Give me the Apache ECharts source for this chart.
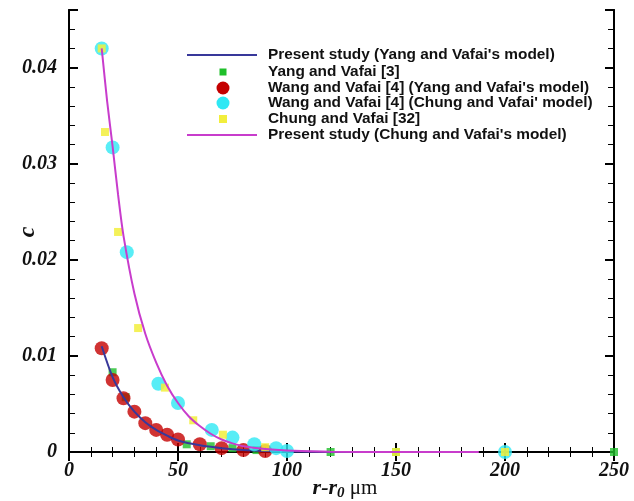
<!DOCTYPE html>
<html><head><meta charset="utf-8">
<script src="https://cdn.jsdelivr.net/npm/echarts@6/dist/echarts.min.js"></script>
<style>html,body{margin:0;padding:0;background:#fff}#c{width:634px;height:501px}</style>
</head><body><div id="c"></div>
<script>
// Present study (Yang and Vafai's model) - blue line
const blueX = [15, 20, 25, 30, 35, 40, 45, 50, 60, 70, 80, 90, 100, 120, 150];
const blueY = [0.011, 0.0078, 0.0057, 0.0042, 0.0031, 0.0023, 0.0017, 0.0012, 0.0007, 0.0004, 0.0002, 0.0001, 0.00005, 0.00001, 0];
// Yang and Vafai [3] - green squares
const greenX = [20, 26, 54, 65, 75, 86, 120, 150, 250];
const greenY = [0.0083, 0.0057, 0.0008, 0.0006, 0.0004, 0.0002, 0, 0, 0];
// Wang and Vafai [4] (Yang and Vafai's model) - red circles
const redX = [15, 20, 25, 30, 35, 40, 45, 50, 60, 70, 80, 90];
const redY = [0.0108, 0.0075, 0.0056, 0.0042, 0.0030, 0.0023, 0.0018, 0.0013, 0.0008, 0.0004, 0.0002, 0.0001];
// Wang and Vafai [4] (Chung and Vafai' model) - cyan circles
const cyanX = [15, 20, 26.5, 41, 50, 65.5, 75, 85, 95, 100, 200];
const cyanY = [0.042, 0.0317, 0.0208, 0.0071, 0.0051, 0.0023, 0.0015, 0.0008, 0.0004, 0.0001, 0];
// Chung and Vafai [32] - yellow squares
const yellowX = [15, 16.5, 22.5, 31.7, 44, 57, 70.6, 90, 150, 200];
const yellowY = [0.042, 0.0333, 0.0229, 0.0129, 0.0067, 0.0033, 0.0018, 0.0005, 0, 0];
// Present study (Chung and Vafai's model) - magenta line
const magX = [15, 17.5, 20, 22.5, 25, 30, 35, 40, 45, 50, 55, 60, 65, 70, 75, 80, 90, 100, 120, 150, 188];
const magY = [0.042, 0.0365, 0.0318, 0.0268, 0.0225, 0.0165, 0.0123, 0.0093, 0.0069, 0.0051, 0.0037, 0.0027, 0.0019, 0.0013, 0.0009, 0.0006, 0.0003, 0.00015, 0.00003, 0, 0];

const legendNames = [
  "Present study (Yang and Vafai's model)",
  "Yang and Vafai [3]",
  "Wang and Vafai [4] (Yang and Vafai's model)",
  "Wang and Vafai [4] (Chung and Vafai' model)",
  "Chung and Vafai [32]",
  "Present study (Chung and Vafai's model)"
];
const yTickLabels = ['0', '0.01', '0.02', '0.03', '0.04'];
const xTickLabels = ['0', '50', '100', '150', '200', '250'];
const yTitle = 'c';
const xTitleParts = ['r-r', '0', ' μm'];

const colors = {blue:'#38389a', green:'#1fbf2a', red:'#c40000', cyan:'#2ee8f4', yellow:'#f2ee3c', mag:'#c83ccc'};
const zip = (a, b) => a.map((v, i) => [v, b[i]]);

const tickFont = {fontFamily:'Liberation Serif', fontStyle:'italic', fontWeight:'bold', fontSize:20, color:'#111'};
const G = {left:69, right:20, top:10, bottom:49, containLabel:false, outerBoundsMode:'none'};
const axLine = {show:true, lineStyle:{color:'#000', width:2}};

function yAx(pos, interval, len, labels) {
  return {type:'value', position:pos, min:0, max:0.046, interval:interval,
    axisLine: axLine, splitLine:{show:false},
    axisTick:{show:true, inside:true, length:len, lineStyle:{color:'#000', width: len>6?2:1}},
    axisLabel: labels ? Object.assign({show:true, margin:12, formatter: v => {
      const k = Math.round(v*100); return (Math.abs(v*100-k) < 1e-6 && k<=4) ? yTickLabels[k] : '';}}, tickFont) : {show:false}
  };
}
function xAx(pos, labels) {
  return {type:'value', position:pos, min:0, max:250, interval:50,
    axisLine: axLine, splitLine:{show:false},
    axisTick:{show:true, inside:true, length:9, lineStyle:{color:'#000', width:2}},
    minorTick:{show:true, splitNumber:5, length:5, lineStyle:{color:'#000', width:1}},
    axisLabel: labels ? Object.assign({show:true, margin:9, formatter: v => xTickLabels[Math.round(v/50)] || ''}, tickFont) : {show:false}
  };
}

const chart = echarts.init(document.getElementById('c'), null, {renderer:'canvas'});

const legendRowsY = [55, 72, 88, 103, 119, 135];
const lgX0 = 187, lgX1 = 257, lgMid = 223, lgText = 268;
const graphic = [];
const lgKinds = [
  {t:'line', c:colors.blue}, {t:'rect', c:colors.green, s:7}, {t:'circle', c:colors.red, s:13},
  {t:'circle', c:colors.cyan, s:13}, {t:'rect', c:colors.yellow, s:8}, {t:'line', c:colors.mag}
];
lgKinds.forEach((k, i) => {
  const y = legendRowsY[i];
  if (k.t === 'line') graphic.push({type:'line', shape:{x1:lgX0, y1:y, x2:lgX1, y2:y}, style:{stroke:k.c, lineWidth:2}});
  else if (k.t === 'rect') graphic.push({type:'rect', shape:{x:lgMid-k.s/2, y:y-k.s/2, width:k.s, height:k.s}, style:{fill:k.c}});
  else graphic.push({type:'circle', shape:{cx:lgMid, cy:y, r:k.s/2}, style:{fill:k.c}});
  graphic.push({type:'text', x:lgText, y:y, style:{text:legendNames[i], font:'bold 15.4px "Liberation Sans", Arial', fill:'#111', verticalAlign:'middle'}});
});
// axis titles
graphic.push({type:'text', x:28, y:232, rotation:Math.PI/2,
  style:{text:yTitle, font:'italic bold 24px "Liberation Serif"', fill:'#111', align:'center', verticalAlign:'middle'}});
graphic.push({type:'text', x:345, y:488,
  style:{text:'{a|'+xTitleParts[0]+'}{s|'+xTitleParts[1]+'}{m|'+xTitleParts[2]+'}', align:'center', verticalAlign:'middle',
    rich:{
      a:{fontFamily:'Liberation Serif', fontStyle:'italic', fontWeight:'bold', fontSize:22, fill:'#111', color:'#111'},
      s:{fontFamily:'Liberation Serif', fontStyle:'italic', fontWeight:'bold', fontSize:15, fill:'#111', color:'#111', padding:[10,0,0,0]},
      m:{fontFamily:'Liberation Serif', fontSize:21, fill:'#111', color:'#111'}}}});

chart.setOption({
  animation:false,
  backgroundColor:'#fff',
  grid: G,
  xAxis: [xAx('bottom', true), xAx('top', false)],
  yAxis: [yAx('left', 0.01, 9, true), yAx('left', 0.002, 6, false), yAx('right', 0.01, 9, false), yAx('right', 0.002, 6, false)],
  graphic: graphic,
  series: [
    {type:'scatter', name:legendNames[1], data:zip(greenX, greenY), symbol:'rect', symbolSize:8, itemStyle:{color:colors.green}, z:2},
    {type:'scatter', name:legendNames[2], data:zip(redX, redY), symbol:'circle', symbolSize:14, itemStyle:{color:colors.red}, z:3},
    {type:'line', name:legendNames[0], data:zip(blueX, blueY), smooth:0.3, showSymbol:false, lineStyle:{color:colors.blue, width:2}, z:4},
    {type:'scatter', name:legendNames[3], data:zip(cyanX, cyanY), symbol:'circle', symbolSize:14, itemStyle:{color:colors.cyan}, z:5},
    {type:'scatter', name:legendNames[4], data:zip(yellowX, yellowY), symbol:'rect', symbolSize:8, itemStyle:{color:colors.yellow, opacity:0.85}, z:6},
    {type:'line', name:legendNames[5], data:zip(magX, magY), smooth:0.3, showSymbol:false, lineStyle:{color:colors.mag, width:2}, z:7}
  ]
});
</script></body></html>
